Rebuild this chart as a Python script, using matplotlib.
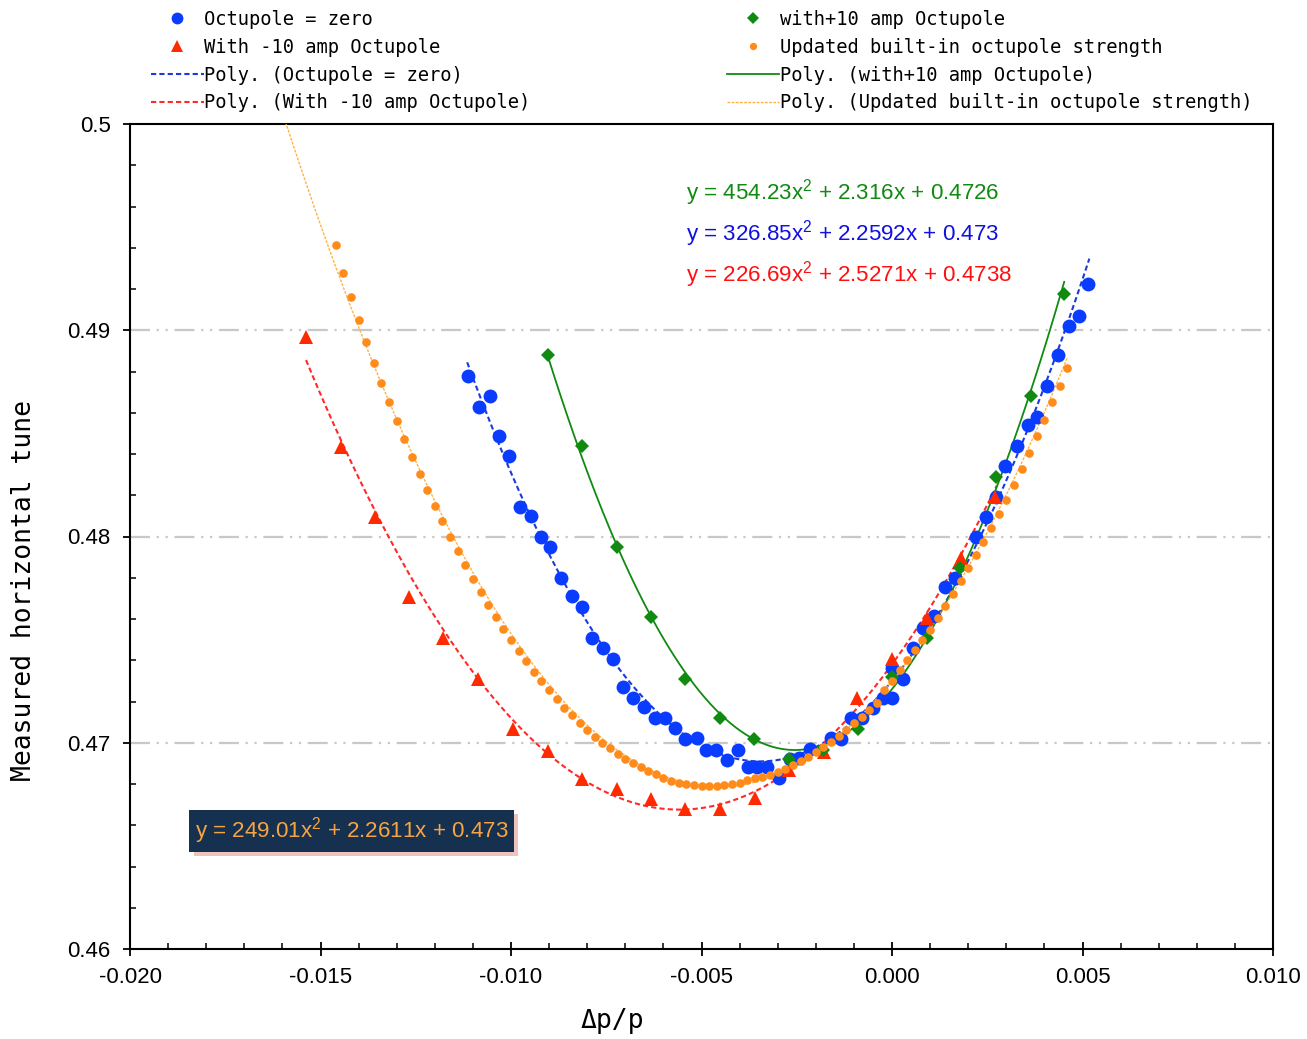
import matplotlib
matplotlib.use("Agg")
import matplotlib.pyplot as plt
import matplotlib.patheffects as pe
from matplotlib.ticker import MultipleLocator, FuncFormatter
import numpy as np

plt.rcParams['axes.unicode_minus'] = False
plt.rcParams['mathtext.fontset'] = 'custom'
plt.rcParams['mathtext.rm'] = 'Liberation Sans'
plt.rcParams['mathtext.it'] = 'Liberation Sans'
plt.rcParams['mathtext.default'] = 'regular'

# Octupole = zero
zero_x = [-0.01114, -0.01085, -0.01056, -0.01032, -0.01006, -0.00976, -0.00948, -0.00922,
          -0.00898, -0.00869, -0.00839, -0.00814, -0.00787, -0.00759, -0.00732, -0.00705,
          -0.00681, -0.00651, -0.00622, -0.00595, -0.00570, -0.00543, -0.00513, -0.00489,
          -0.00463, -0.00434, -0.00404, -0.00378, -0.00354, -0.00327, -0.00297, -0.00269,
          -0.00243, -0.00216, -0.00161, -0.00135, -0.00108, -0.00080, -0.00051, -0.00024,
          -0.00001, -0.00001, 0.00030, 0.00056, 0.00081, 0.00110, 0.00140, 0.00165,
          0.00221, 0.00247, 0.00273, 0.00297, 0.00327, 0.00356, 0.00380, 0.00406,
          0.00435, 0.00465, 0.00491, 0.00515]
zero_y = [0.48780, 0.48629, 0.48683, 0.48487, 0.48389, 0.48141, 0.48101, 0.47999,
          0.47948, 0.47801, 0.47710, 0.47657, 0.47509, 0.47458, 0.47407, 0.47272,
          0.47218, 0.47171, 0.47120, 0.47119, 0.47070, 0.47020, 0.47022, 0.46967,
          0.46967, 0.46918, 0.46967, 0.46882, 0.46882, 0.46882, 0.46828, 0.46920,
          0.46924, 0.46971, 0.47022, 0.47018, 0.47119, 0.47120, 0.47167, 0.47216,
          0.47361, 0.47218, 0.47309, 0.47459, 0.47555, 0.47613, 0.47753, 0.47801,
          0.47999, 0.48096, 0.48192, 0.48343, 0.48439, 0.48541, 0.48581, 0.48730,
          0.48880, 0.49021, 0.49069, 0.49223]

# With -10 amp Octupole
minus_x = [-0.01538, -0.01446, -0.01357, -0.01268, -0.01178, -0.01087, -0.00995, -0.00903,
           -0.00814, -0.00722, -0.00633, -0.00543, -0.00451, -0.00360, -0.00270, -0.00178,
           -0.00092, 0.00000, 0.00092, 0.00181, 0.00270]
minus_y = [0.48967, 0.48434, 0.48095, 0.47707, 0.47508, 0.47309, 0.47067, 0.46960,
           0.46824, 0.46776, 0.46727, 0.46679, 0.46679, 0.46732, 0.46868, 0.46955,
           0.47217, 0.47406, 0.47605, 0.47896, 0.48192]

# with+10 amp Octupole
plus_x = [-0.00904, -0.00814, -0.00722, -0.00633, -0.00543, -0.00451, -0.00361, -0.00270,
          -0.00180, -0.00090, 0.00000, 0.00093, 0.00179, 0.00272, 0.00365, 0.00452]
plus_y = [0.48880, 0.48439, 0.47949, 0.47611, 0.47309, 0.47120, 0.47018, 0.46920,
          0.46965, 0.47067, 0.47319, 0.47506, 0.47846, 0.48290, 0.48681, 0.49174]

# Updated built-in octupole strength
upd_x = [-0.0146, -0.0144, -0.0142, -0.0140, -0.0138, -0.0136, -0.0134, -0.0132, -0.0130, -0.0128,
         -0.0126, -0.0124, -0.0122, -0.0120, -0.0118, -0.0116, -0.0114, -0.0112, -0.0110, -0.0108,
         -0.0106, -0.0104, -0.0102, -0.0100, -0.0098, -0.0096, -0.0094, -0.0092, -0.0090, -0.0088,
         -0.0086, -0.0084, -0.0082, -0.0080, -0.0078, -0.0076, -0.0074, -0.0072, -0.0070, -0.0068,
         -0.0066, -0.0064, -0.0062, -0.0060, -0.0058, -0.0056, -0.0054, -0.0052, -0.0050, -0.0048,
         -0.0046, -0.0044, -0.0042, -0.0040, -0.0038, -0.0036, -0.0034, -0.0032, -0.0030, -0.0028,
         -0.0026, -0.0024, -0.0022, -0.0020, -0.0018, -0.0016, -0.0014, -0.0012, -0.0010, -0.0008,
         -0.0006, -0.0004, -0.0002, 0.0000, 0.0002, 0.0004, 0.0006, 0.0008, 0.0010, 0.0012,
         0.0014, 0.0016, 0.0018, 0.0020, 0.0022, 0.0024, 0.0026, 0.0028, 0.0030, 0.0032,
         0.0034, 0.0036, 0.0038, 0.0040, 0.0042, 0.0044, 0.0046]
upd_y = [0.49413, 0.49279, 0.49160, 0.49050, 0.48945, 0.48843, 0.48746, 0.48654, 0.48560, 0.48473,
         0.48387, 0.48303, 0.48225, 0.48149, 0.48073, 0.47999, 0.47930, 0.47862, 0.47795, 0.47729,
         0.47668, 0.47611, 0.47553, 0.47498, 0.47446, 0.47395, 0.47345, 0.47300, 0.47254, 0.47211,
         0.47170, 0.47135, 0.47096, 0.47062, 0.47029, 0.46999, 0.46973, 0.46947, 0.46923, 0.46902,
         0.46881, 0.46863, 0.46847, 0.46831, 0.46815, 0.46806, 0.46800, 0.46794, 0.46791, 0.46791,
         0.46791, 0.46795, 0.46800, 0.46807, 0.46817, 0.46828, 0.46836, 0.46846, 0.46856, 0.46873,
         0.46890, 0.46912, 0.46933, 0.46953, 0.46978, 0.47005, 0.47034, 0.47062, 0.47094, 0.47126,
         0.47159, 0.47191, 0.47256, 0.47299, 0.47353, 0.47401, 0.47450, 0.47498, 0.47547, 0.47605,
         0.47663, 0.47721, 0.47782, 0.47845, 0.47908, 0.47973, 0.48039, 0.48109, 0.48179, 0.48252,
         0.48327, 0.48405, 0.48485, 0.48565, 0.48650, 0.48732, 0.48817]

# trendline coefficients as printed on the chart (a, b, c) and their x spans
fit_zero = [326.85, 2.2592, 0.473]
fit_minus = [226.69, 2.5271, 0.4738]
fit_plus = [454.23, 2.316, 0.4726]
fit_upd = [249.01, 2.2611, 0.473]
span_zero = (-0.01115, 0.00518)
span_minus = (-0.01538, 0.00275)
span_plus = (-0.00904, 0.00452)
span_upd = (-0.01595, 0.00460)

c_blue = '#0a3cff'
c_red = '#ff2a00'
c_green = '#108a10'
c_orange = '#ff8c1a'

fig = plt.figure(figsize=(13.07, 10.39), dpi=100)
ax = fig.add_axes([130 / 1307, 90 / 1039, 1143 / 1307, 825 / 1039])


def fit_line(coef, span):
    xs = np.linspace(span[0], span[1], 300)
    return xs, np.polyval(coef, xs)


def eq_text(coef):
    return 'y = %gx$^2$ + %gx + %g' % tuple(coef)


h1, = ax.plot(zero_x, zero_y, 'o', color=c_blue, ms=10, mew=0, zorder=4)
h2, = ax.plot(minus_x, minus_y, '^', color=c_red, ms=9.5, mew=0, zorder=4)
h5, = ax.plot(plus_x, plus_y, 'D', color=c_green, ms=7.2, mew=0, zorder=4)
h6, = ax.plot(upd_x, upd_y, 'o', color=c_orange, ms=6.2, mew=0, zorder=5)

xs, ys = fit_line(fit_zero, span_zero)
h3, = ax.plot(xs, ys, color='#1a3adc', lw=1.5, dashes=(2.5, 1.5), zorder=3)
xs, ys = fit_line(fit_minus, span_minus)
h4, = ax.plot(xs, ys, color='#ff2a2a', lw=1.5, dashes=(2.5, 1.5), zorder=3)
xs, ys = fit_line(fit_plus, span_plus)
h7, = ax.plot(xs, ys, color=c_green, lw=1.3, zorder=3)
xs, ys = fit_line(fit_upd, span_upd)
h8, = ax.plot(xs, ys, color='#ffb347', lw=1.0, dashes=(2, 1), zorder=3)

ax.set_xlim(-0.02, 0.01)
ax.set_ylim(0.46, 0.5)

ax.xaxis.set_major_locator(MultipleLocator(0.005))
ax.xaxis.set_minor_locator(MultipleLocator(0.001))
ax.yaxis.set_major_locator(MultipleLocator(0.01))
ax.yaxis.set_minor_locator(MultipleLocator(0.002))
ax.xaxis.set_major_formatter(FuncFormatter(lambda v, p: "%.3f" % v))
ax.yaxis.set_major_formatter(FuncFormatter(lambda v, p: "%g" % round(v, 3)))

ax.tick_params(axis='x', which='major', direction='inout', length=10, width=1.3, pad=8,
               labelsize=16, top=False)
ax.tick_params(axis='x', which='minor', direction='in', length=4, width=1.1, top=False)
ax.tick_params(axis='y', which='major', direction='out', length=5, width=1.3, pad=9,
               labelsize=16, right=False)
ax.tick_params(axis='y', which='minor', direction='in', length=4, width=1.1, right=False)
for lab in ax.get_xticklabels() + ax.get_yticklabels():
    lab.set_family('Liberation Sans')
for sp in ax.spines.values():
    sp.set_linewidth(1.5)

for gy in [0.47, 0.48, 0.49]:
    ax.axhline(gy, color='#c8c8c8', lw=1.6, dashes=(9, 3, 1, 3, 1, 3), zorder=1)

ax.set_xlabel('Δp/p', family='DejaVu Sans Mono', fontsize=19, va='center')
ax.xaxis.set_label_coords(0.4217, -0.0873)
ax.set_ylabel('Measured horizontal tune', family='DejaVu Sans Mono', fontsize=19, va='center')
ax.yaxis.set_label_coords(-0.0927, 0.434)

# trendline equations
eq_kw = dict(transform=ax.transAxes, fontsize=16.1, family='Liberation Sans', va='center', ha='left')
ax.text(0.4864, 0.9164, eq_text(fit_plus), color=c_green, **eq_kw)
ax.text(0.4864, 0.8667, eq_text(fit_zero), color='#1010e0', **eq_kw)
ax.text(0.4864, 0.8170, eq_text(fit_minus), color='#ff1010', **eq_kw)

t = ax.text(0.0569, 0.143, eq_text(fit_upd), color='#f7a443', zorder=7,
            bbox=dict(boxstyle='square,pad=0.25', facecolor='#16304f', edgecolor='none'), **eq_kw)
t.get_bbox_patch().set_path_effects([
    pe.withSimplePatchShadow(offset=(3, -3), shadow_rgbFace='#e6a8a4', alpha=0.7)])

handles = [h1, h2, h3, h4, h5, h6, h7, h8]
labels = ['Octupole = zero', 'With -10 amp Octupole', 'Poly. (Octupole = zero)',
          'Poly. (With -10 amp Octupole)', 'with+10 amp Octupole',
          'Updated built-in octupole strength', 'Poly. (with+10 amp Octupole)',
          'Poly. (Updated built-in octupole strength)']
leg = fig.legend(handles, labels, ncol=2, loc='upper left', bbox_to_anchor=(151 / 1307, 1 - 10 / 1039),
                 frameon=False, prop={'family': 'DejaVu Sans Mono', 'size': 13.5},
                 handlelength=2.8, handletextpad=0.05, columnspacing=10.45, labelspacing=0.47,
                 borderpad=0, borderaxespad=0, markerscale=0.85)

fig.savefig('out.png', dpi=100)
